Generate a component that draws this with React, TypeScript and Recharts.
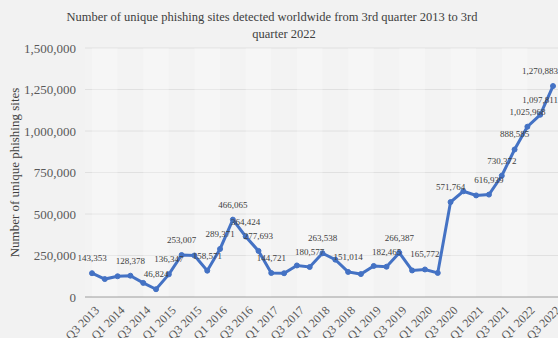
import React from 'react';
import { LineChart, Line, XAxis, YAxis, CartesianGrid, LabelList, ReferenceArea, Label } from 'recharts';

const categories = [
  'Q3 2013', 'Q4 2013', 'Q1 2014', 'Q2 2014', 'Q3 2014', 'Q4 2014',
  'Q1 2015', 'Q2 2015', 'Q3 2015', 'Q4 2015', 'Q1 2016', 'Q2 2016',
  'Q3 2016', 'Q4 2016', 'Q1 2017', 'Q2 2017', 'Q3 2017', 'Q4 2017',
  'Q1 2018', 'Q2 2018', 'Q3 2018', 'Q4 2018', 'Q1 2019', 'Q2 2019',
  'Q3 2019', 'Q4 2019', 'Q1 2020', 'Q2 2020', 'Q3 2020', 'Q4 2020',
  'Q1 2021', 'Q2 2021', 'Q3 2021', 'Q4 2021', 'Q1 2022', 'Q2 2022',
  'Q3 2022',
];

const sites = [
  143353, 108000, 125000, 128378, 85000, 46824,
  136347, 253007, 250000, 158571, 289371, 466065,
  364424, 277693, 144721, 143000, 190000, 180577,
  263538, 225000, 151014, 138000, 187000, 182465,
  266387, 160000, 165772, 145000, 571764, 637000,
  612000, 616939, 730372, 888585, 1025968, 1097811,
  1270883,
];

const labeledIndices = [0, 3, 5, 6, 7, 9, 10, 11, 12, 13, 14, 17, 18, 20, 23, 24, 26, 28, 31, 32, 33, 34, 35, 36];

const yTicks = [0, 250000, 500000, 750000, 1000000, 1250000, 1500000];

const data = categories.map((q, i) => ({ q, sites: sites[i], label: labeledIndices.includes(i) ? sites[i] : null }));

const fmt = (v: number) => v.toLocaleString('en-US');

const FONT = '"Liberation Serif", "Times New Roman", serif';
const LINE = '#4472c4';

const XTick = (props: any) => {
  const { x, y, payload } = props;
  return (
    <g transform={`translate(${x + 8},${y + 6})`}>
      <text x={0} y={0} textAnchor="end" transform="rotate(-45)" fontSize={12} fontFamily={FONT} fill="#595959">
        {payload.value}
      </text>
    </g>
  );
};

const DataLabel = (props: any) => {
  const { x, y, value, index } = props;
  if (value === null || value === undefined) return null;
  const dx = index === categories.length - 1 ? -13 : 0;
  return (
    <text x={x + dx} y={y - 12} textAnchor="middle" fontSize={9} fontFamily={FONT} fill="#404040">
      {fmt(value)}
    </text>
  );
};

const bandStarts = [0, 4, 8, 12, 16, 20, 24, 28, 32];

export default function App() {
  return (
    <div style={{ position: 'absolute', left: 0, top: 0, width: 558, height: 338, background: '#f2f2f2' }}>
      <div style={{ position: 'absolute', left: 0, top: 9, width: 558, textAlign: 'center', fontFamily: FONT, fontSize: 12.5, lineHeight: '17px', color: '#404040' }}>
        <div style={{ paddingLeft: 0, paddingRight: 14 }}>Number of unique phishing sites detected worldwide from 3rd quarter 2013 to 3rd</div>
        <div style={{ paddingLeft: 10 }}>quarter 2022</div>
      </div>
      <LineChart width={558} height={338} data={data} margin={{ top: 48, right: 0, bottom: 0, left: 0 }}>
        <CartesianGrid vertical={false} stroke="#e0e0e0" fill="#f3f3f3" />
        {bandStarts.map((s) => (
          <ReferenceArea key={s} x1={categories[s]} x2={categories[Math.min(s + 2, categories.length - 1)]} fill="#ffffff" fillOpacity={0.25} stroke="none" />
        ))}
        <XAxis
          dataKey="q"
          interval={1}
          height={41}
          tick={<XTick />}
          tickLine={false}
          axisLine={{ stroke: '#a6a6a6' }}
          padding={{ left: 7, right: 5 }}
        />
        <YAxis
          domain={[0, 1500000]}
          ticks={yTicks}
          width={85}
          tickFormatter={fmt}
          tickLine={false}
          axisLine={false}
          tick={{ fontSize: 13, fontFamily: FONT, fill: '#595959' }}
          tickMargin={3}
        >
          <Label
            value="Number of unique phishing sites"
            angle={-90}
            position="insideLeft"
            offset={14}
            style={{ textAnchor: 'middle', fontSize: 13, fontFamily: FONT, fill: '#404040' }}
          />
        </YAxis>
        <Line
          type="linear"
          dataKey="sites"
          stroke={LINE}
          strokeWidth={3}
          dot={{ r: 2.5, fill: LINE, stroke: LINE, strokeWidth: 1 }}
          isAnimationActive={false}
        >
          <LabelList dataKey="label" content={<DataLabel />} />
        </Line>
      </LineChart>
    </div>
  );
}
